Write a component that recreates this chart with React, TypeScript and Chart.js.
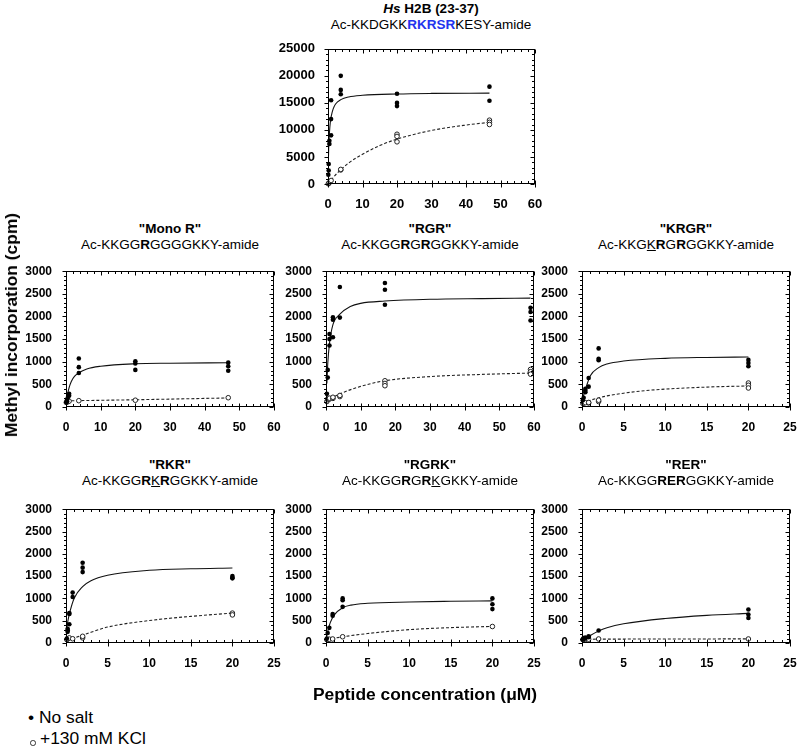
import React, { useEffect, useRef } from 'react';
import { Chart, registerables } from 'chart.js';

Chart.register(...registerables);

type P = [number, number];

// ---------- Hs H2B (23-37) ----------
const h2bNoSalt: P[] = [
  [0.1, 1700], [0.2, 2500], [0.2, 3700], [0.4, 7400], [0.4, 8000], [0.9, 9000], [0.9, 12000], [0.9, 15500],
  [3.7, 20000], [3.7, 17400], [3.7, 16600], [20, 16700], [20, 15000], [20, 14400], [46.8, 18000], [46.8, 15400],
];
const h2bKcl: P[] = [
  [0.1, 50], [0.2, 120], [0.4, 280], [0.9, 650], [3.7, 2600], [3.7, 2700],
  [20, 9200], [20, 8800], [20, 7800], [46.8, 11800], [46.8, 11400], [46.8, 11000],
];
const h2bFitNoSalt: P[] = [
  [0.03, 1500], [0.1, 4000], [0.2, 6800], [0.4, 9300], [0.7, 11600], [1, 12700], [1.5, 13900], [2.2, 14800],
  [3.7, 15600], [6, 16100], [10, 16400], [20, 16650], [30, 16750], [46.8, 16800],
];
const h2bFitKcl: P[] = [
  [0, 0], [1, 800], [2, 1550], [3.7, 2650], [6, 3900], [10, 5500], [15, 7100], [20, 8300], [30, 9900], [40, 10900], [46.8, 11400],
];

// ---------- "Mono R" ----------
const monoNoSalt: P[] = [
  [0.1, 110], [0.3, 125], [0.3, 160], [0.5, 200], [0.9, 250], [0.9, 290],
  [3.7, 1070], [3.7, 880], [3.7, 750], [20, 1010], [20, 960], [20, 820], [46.8, 980], [46.8, 900], [46.8, 800],
];
const monoKcl: P[] = [[0.1, 100], [0.3, 110], [0.5, 120], [0.9, 130], [3.7, 140], [20, 150], [46.8, 205]];
const monoFitNoSalt: P[] = [
  [0.1, 90], [0.3, 200], [0.5, 300], [0.9, 430], [1.5, 560], [2.5, 680], [3.7, 755], [6, 840], [10, 900], [20, 955], [30, 968], [46.8, 978],
];
const monoFitKcl: P[] = [[0.1, 135], [5, 142], [20, 160], [46.8, 200]];

// ---------- "RGR" ----------
const rgrNoSalt: P[] = [
  [0.25, 290], [0.5, 650], [0.5, 820], [1, 1360], [1, 1500], [1, 1610], [2, 1540], [2, 1930], [2, 1980],
  [4, 1975], [4, 2650], [17, 2740], [17, 2590], [17, 2260], [59, 2190], [59, 2100], [59, 1910],
];
const rgrKcl: P[] = [
  [0.25, 120], [0.5, 160], [0.5, 180], [1, 175], [1, 195], [2, 190], [2, 215], [4, 230], [4, 255],
  [17, 580], [17, 520], [17, 470], [59, 830], [59, 780], [59, 725],
];
const rgrFitNoSalt: P[] = [
  [0.25, 520], [0.5, 950], [1, 1400], [2, 1820], [4, 2050], [7, 2220], [10, 2290], [17, 2340], [30, 2380], [45, 2395], [59, 2405],
];
const rgrFitKcl: P[] = [
  [0.25, 100], [1, 150], [2, 215], [4, 290], [10, 456], [17, 580], [30, 672], [45, 720], [59, 750],
];

// ---------- "KRGR" ----------
const krgrNoSalt: P[] = [
  [0.1, 150], [0.2, 205], [0.4, 325], [0.4, 360], [0.4, 400], [0.8, 450], [0.8, 640],
  [2, 1295], [2, 1065], [2, 1035], [20, 1040], [20, 970], [20, 900],
];
const krgrKcl: P[] = [
  [0.1, 80], [0.2, 90], [0.4, 95], [0.8, 90], [0.8, 100], [2, 120], [2, 150], [20, 530], [20, 480], [20, 420],
];
const krgrFitNoSalt: P[] = [
  [0.1, 200], [0.2, 260], [0.5, 440], [1, 690], [2, 870], [3, 950], [5, 1015], [10, 1075], [15, 1095], [20, 1105],
];
const krgrFitKcl: P[] = [
  [0.1, 95], [0.5, 120], [1, 150], [2, 200], [3, 245], [5, 305], [7.5, 360], [10, 395], [15, 440], [20, 465],
];

// ---------- "RKR" ----------
const rkrNoSalt: P[] = [
  [0.1, 100], [0.2, 250], [0.2, 285], [0.2, 320], [0.4, 420], [0.4, 650], [0.4, 670], [0.8, 1030], [0.8, 1130],
  [2, 1800], [2, 1690], [2, 1590], [20, 1500], [20, 1470], [20, 1450],
];
const rkrKcl: P[] = [[0.1, 75], [0.2, 95], [0.4, 115], [0.8, 95], [2, 115], [2, 150], [20, 670], [20, 630]];
const rkrFitNoSalt: P[] = [
  [0.1, 320], [0.2, 465], [0.5, 720], [1, 1010], [2, 1266], [3, 1397], [5, 1520], [10, 1630], [15, 1665], [20, 1681],
];
const rkrFitKcl: P[] = [[0.1, 60], [1, 116], [2, 175], [3, 240], [5, 357], [10, 503], [15, 597], [20, 670]];

// ---------- "RGRK" ----------
const rgrkNoSalt: P[] = [
  [0.1, 100], [0.2, 225], [0.4, 340], [0.8, 610], [0.8, 650], [2, 1000], [2, 960], [2, 810], [20, 1000], [20, 870], [20, 760],
];
const rgrkKcl: P[] = [[0.1, 75], [0.2, 80], [0.4, 85], [0.8, 90], [2, 140], [20, 370]];
const rgrkFitNoSalt: P[] = [
  [0.1, 160], [0.2, 250], [0.5, 450], [1, 630], [2, 790], [3, 850], [5, 890], [10, 920], [15, 935], [20, 945],
];
const rgrkFitKcl: P[] = [[0.1, 65], [0.5, 87], [2, 138], [5, 212], [10, 299], [15, 345], [20, 371]];

// ---------- "RER" ----------
const rerNoSalt: P[] = [
  [0.1, 80], [0.2, 90], [0.2, 110], [0.4, 100], [0.4, 120], [0.8, 130], [0.8, 150], [2, 280], [20, 750], [20, 640], [20, 560],
];
const rerKcl: P[] = [[0.1, 75], [0.2, 80], [0.4, 80], [0.8, 85], [2, 90], [20, 90]];
const rerFitNoSalt: P[] = [
  [0.1, 70], [0.5, 110], [1, 170], [2, 270], [3, 340], [5, 430], [10, 550], [15, 620], [20, 665],
];
const rerFitKcl: P[] = [[0.1, 85], [5, 88], [10, 90], [20, 92]];

// ---------- axis ranges ----------
const yTopMax = 25000, yTopStep = 5000, yTopMinor = 1000;
const yMax = 3000, yStep = 500, yMinor = 100;
const xWideMax = 60, xWideStep = 10, xWideMinor = 2;
const xNarrowMax = 25, xNarrowStep = 5, xNarrowMinor = 1;

const FONT = "'Liberation Sans', Arial, Helvetica, sans-serif";
const BLUE = '#2233ee';
const PAD_L = 52, PAD_T = 10, PAD_R = 14, PAD_B = 28;

const toXY = (a: P[]) => a.map(([x, y]) => ({ x, y }));

const frameTicks = {
  id: 'frameTicks',
  afterDraw(chart: any, _args: any, opts: any) {
    const { ctx, chartArea: a, scales } = chart;
    const xs = scales.x, ys = scales.y;
    ctx.save();
    ctx.strokeStyle = '#000';
    ctx.lineWidth = 1;
    const L = Math.round(a.left) + 0.5;
    const R = Math.round(a.right) - 0.5;
    const T = Math.round(a.top) + 0.5;
    const B = Math.round(a.bottom) - 0.5;
    ctx.strokeRect(L, T, R - L, B - T);
    ctx.beginPath();
    const nx = Math.round((xs.max - xs.min) / opts.xMinor);
    for (let i = 0; i <= nx; i++) {
      const v = xs.min + i * opts.xMinor;
      const r = v / opts.xMajor;
      const major = Math.abs(r - Math.round(r)) < 1e-6;
      const px = Math.round(xs.getPixelForValue(v)) + 0.5;
      if (major) {
        ctx.moveTo(px, B - 3); ctx.lineTo(px, B + 4);
        ctx.moveTo(px, T); ctx.lineTo(px, T + 4);
      } else {
        ctx.moveTo(px, B - 2.5); ctx.lineTo(px, B);
        ctx.moveTo(px, T); ctx.lineTo(px, T + 2.5);
      }
    }
    const ny = Math.round((ys.max - ys.min) / opts.yMinor);
    for (let i = 0; i <= ny; i++) {
      const v = ys.min + i * opts.yMinor;
      const r = v / opts.yMajor;
      const major = Math.abs(r - Math.round(r)) < 1e-6;
      const py = Math.round(ys.getPixelForValue(v)) + 0.5;
      const len = major ? 4 : 2.5;
      ctx.moveTo(L - len, py); ctx.lineTo(L, py);
      ctx.moveTo(R - len, py); ctx.lineTo(R, py);
    }
    ctx.stroke();
    ctx.restore();
  },
};

type PanelProps = {
  L: number; T: number; R: number; B: number;
  xMax: number; xStep: number; xMinor: number;
  yMaxV: number; yStepV: number; yMinorV: number;
  fontSize: number; yPad: number;
  noSalt: P[]; kcl: P[]; fitNoSalt: P[]; fitKcl: P[];
};

function Panel(p: PanelProps) {
  const ref = useRef<HTMLCanvasElement>(null);
  const w = p.R - p.L + PAD_L + PAD_R;
  const h = p.B - p.T + PAD_T + PAD_B;
  useEffect(() => {
    if (!ref.current) return;
    const tickFont = { family: FONT, size: p.fontSize, weight: 'bold' as const };
    const chart = new Chart(ref.current, {
      type: 'scatter',
      data: {
        datasets: [
          {
            label: 'No salt',
            data: toXY(p.noSalt),
            pointRadius: 2.3,
            pointBackgroundColor: '#000',
            pointBorderWidth: 0,
            showLine: false,
            clip: 6,
          },
          {
            label: '+130 mM KCl',
            data: toXY(p.kcl),
            pointRadius: 2.3,
            pointBackgroundColor: '#fff',
            pointBorderColor: '#222',
            pointBorderWidth: 1,
            showLine: false,
            clip: 6,
          },
          {
            label: 'fit no salt',
            data: toXY(p.fitNoSalt),
            showLine: true,
            pointRadius: 0,
            borderColor: '#111',
            borderWidth: 1.1,
            cubicInterpolationMode: 'monotone',
            fill: false,
          },
          {
            label: 'fit KCl',
            data: toXY(p.fitKcl),
            showLine: true,
            pointRadius: 0,
            borderColor: '#222',
            borderWidth: 1.1,
            borderDash: [3, 2],
            cubicInterpolationMode: 'monotone',
            fill: false,
          },
        ] as any,
      },
      options: {
        animation: false,
        responsive: false,
        maintainAspectRatio: false,
        events: [],
        layout: { padding: { left: 0, top: PAD_T, right: PAD_R, bottom: 0 } },
        plugins: {
          legend: { display: false },
          tooltip: { enabled: false },
          frameTicks: { xMinor: p.xMinor, xMajor: p.xStep, yMinor: p.yMinorV, yMajor: p.yStepV },
        } as any,
        scales: {
          x: {
            type: 'linear',
            min: 0,
            max: p.xMax,
            grid: { display: false },
            border: { display: false },
            ticks: {
              stepSize: p.xStep,
              color: '#000',
              font: tickFont,
              padding: 5,
              maxRotation: 0,
              autoSkip: false,
              callback: (v: any) => String(v),
            },
            afterFit: (s: any) => { s.height = PAD_B; },
          },
          y: {
            type: 'linear',
            min: 0,
            max: p.yMaxV,
            grid: { display: false },
            border: { display: false },
            ticks: {
              stepSize: p.yStepV,
              color: '#000',
              font: tickFont,
              padding: p.yPad,
              autoSkip: false,
              callback: (v: any) => String(v),
            },
            afterFit: (s: any) => { s.width = PAD_L; },
          },
        },
      } as any,
      plugins: [frameTicks],
    });
    return () => chart.destroy();
  }, []);
  return (
    <canvas
      ref={ref}
      width={w}
      height={h}
      style={{ position: 'absolute', left: p.L - PAD_L, top: p.T - PAD_T, width: w, height: h }}
    />
  );
}

const centered = (x: number, y: number, extra: React.CSSProperties = {}): React.CSSProperties => ({
  position: 'absolute',
  left: x,
  top: y,
  transform: 'translate(-50%, -50%)',
  whiteSpace: 'nowrap',
  fontSize: 13.5,
  lineHeight: '16px',
  color: '#000',
  ...extra,
});

const ul: React.CSSProperties = { textDecoration: 'underline' };

export default function App() {
  const rowMidT = 268, rowMidB = 407, rowBotT = 506, rowBotB = 643;
  const c1L = 66, c1R = 274, c2L = 326, c2R = 534, c3L = 582, c3R = 790;
  const wideX = { xMax: xWideMax, xStep: xWideStep, xMinor: xWideMinor };
  const narrowX = { xMax: xNarrowMax, xStep: xNarrowStep, xMinor: xNarrowMinor };
  const smallY = { yMaxV: yMax, yStepV: yStep, yMinorV: yMinor, fontSize: 12, yPad: 6 };
  return (
    <div style={{ position: 'absolute', left: 0, top: 0, width: 800, height: 748, background: '#fff', fontFamily: FONT, overflow: 'hidden' }}>
      {/* top panel */}
      <div style={centered(431, 9, { fontWeight: 'bold' })}><i>Hs</i> H2B (23-37)</div>
      <div style={centered(431, 25)}>Ac-KKDGKK<b style={{ color: BLUE }}>RKRSR</b>KESY-amide</div>
      <Panel L={328} R={535} T={46} B={184} {...wideX} yMaxV={yTopMax} yStepV={yTopStep} yMinorV={yTopMinor} fontSize={13} yPad={5}
        noSalt={h2bNoSalt} kcl={h2bKcl} fitNoSalt={h2bFitNoSalt} fitKcl={h2bFitKcl} />

      {/* middle row */}
      <div style={centered((c1L + c1R) / 2, 229, { fontWeight: 'bold' })}>"Mono R"</div>
      <div style={centered((c1L + c1R) / 2, 245)}>Ac-KKGG<b>R</b>GGGGKKY-amide</div>
      <Panel L={c1L} R={c1R} T={rowMidT} B={rowMidB} {...wideX} {...smallY}
        noSalt={monoNoSalt} kcl={monoKcl} fitNoSalt={monoFitNoSalt} fitKcl={monoFitKcl} />

      <div style={centered((c2L + c2R) / 2, 229, { fontWeight: 'bold' })}>"RGR"</div>
      <div style={centered((c2L + c2R) / 2, 245)}>Ac-KKGG<b>R</b>G<b>R</b>GGKKY-amide</div>
      <Panel L={c2L} R={c2R} T={rowMidT} B={rowMidB} {...wideX} {...smallY}
        noSalt={rgrNoSalt} kcl={rgrKcl} fitNoSalt={rgrFitNoSalt} fitKcl={rgrFitKcl} />

      <div style={centered((c3L + c3R) / 2, 229, { fontWeight: 'bold' })}>"KRGR"</div>
      <div style={centered((c3L + c3R) / 2, 245)}>Ac-KKG<span style={ul}>K</span><b>R</b>G<b>R</b>GGKKY-amide</div>
      <Panel L={c3L} R={c3R} T={rowMidT} B={rowMidB} {...narrowX} {...smallY}
        noSalt={krgrNoSalt} kcl={krgrKcl} fitNoSalt={krgrFitNoSalt} fitKcl={krgrFitKcl} />

      {/* bottom row */}
      <div style={centered((c1L + c1R) / 2, 465, { fontWeight: 'bold' })}>"RKR"</div>
      <div style={centered((c1L + c1R) / 2, 481)}>Ac-KKGG<b>R</b><span style={ul}>K</span><b>R</b>GGKKY-amide</div>
      <Panel L={c1L} R={c1R} T={rowBotT} B={rowBotB} {...narrowX} {...smallY}
        noSalt={rkrNoSalt} kcl={rkrKcl} fitNoSalt={rkrFitNoSalt} fitKcl={rkrFitKcl} />

      <div style={centered((c2L + c2R) / 2, 465, { fontWeight: 'bold' })}>"RGRK"</div>
      <div style={centered((c2L + c2R) / 2, 481)}>Ac-KKGG<b>R</b>G<b>R</b><span style={ul}>K</span>GKKY-amide</div>
      <Panel L={c2L} R={c2R} T={rowBotT} B={rowBotB} {...narrowX} {...smallY}
        noSalt={rgrkNoSalt} kcl={rgrkKcl} fitNoSalt={rgrkFitNoSalt} fitKcl={rgrkFitKcl} />

      <div style={centered((c3L + c3R) / 2, 465, { fontWeight: 'bold' })}>"RER"</div>
      <div style={centered((c3L + c3R) / 2, 481)}>Ac-KKGG<b>RER</b>GGKKY-amide</div>
      <Panel L={c3L} R={c3R} T={rowBotT} B={rowBotB} {...narrowX} {...smallY}
        noSalt={rerNoSalt} kcl={rerKcl} fitNoSalt={rerFitNoSalt} fitKcl={rerFitKcl} />

      {/* axis titles */}
      <div style={{ ...centered(11, 325, { fontWeight: 'bold', fontSize: 17.4, lineHeight: '20px' }), transform: 'translate(-50%, -50%) rotate(-90deg)' }}>
        Methyl incorporation (cpm)
      </div>
      <div style={centered(425, 694, { fontWeight: 'bold', fontSize: 17.4, lineHeight: '20px' })}>Peptide concentration (μM)</div>

      {/* legend */}
      <div style={{ position: 'absolute', left: 28, top: 707, fontSize: 17.4, lineHeight: '20px', whiteSpace: 'nowrap' }}>• No salt</div>
      <div style={{ position: 'absolute', left: 30, top: 740, width: 3.5, height: 3.5, border: '1px solid #333', borderRadius: '50%', background: '#fff' }} />
      <div style={{ position: 'absolute', left: 40, top: 728, fontSize: 17.4, lineHeight: '20px', whiteSpace: 'nowrap' }}>+130 mM KCl</div>
    </div>
  );
}
